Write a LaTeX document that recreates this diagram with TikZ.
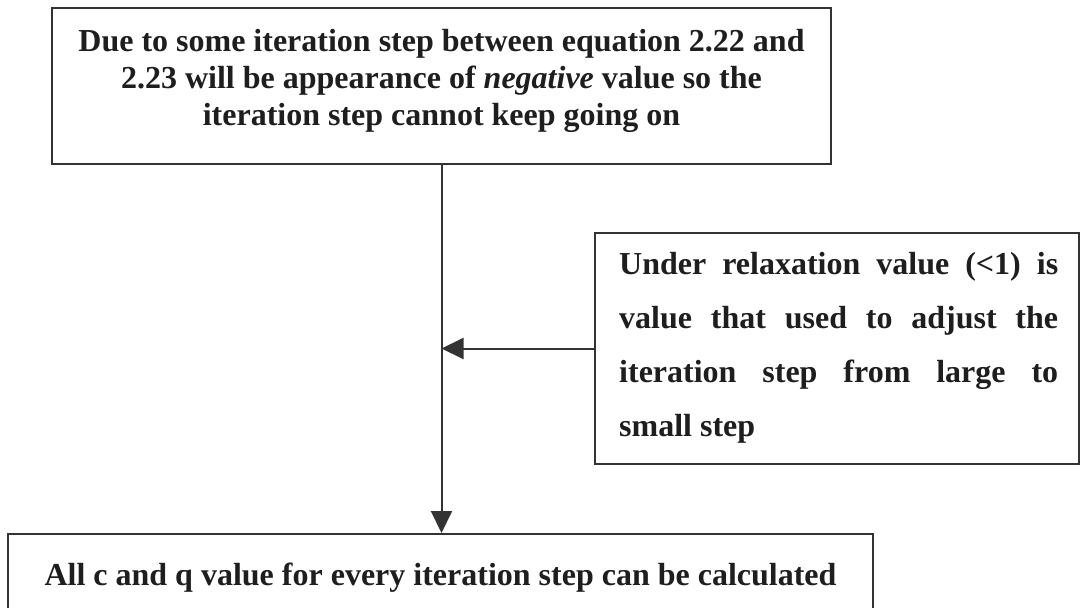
\documentclass[tikz,border=0pt]{standalone}
\usepackage{fontspec}
\setmainfont{Liberation Serif}
\usetikzlibrary{arrows.meta}
\definecolor{linec}{HTML}{333333}
\definecolor{textc}{HTML}{1E1E1E}
\begin{document}
\begin{tikzpicture}[x=1pt,y=-1pt,
  box/.style={draw=linec, line width=2pt, rectangle, inner sep=0pt},
  txt/.style={anchor=base, inner sep=0pt, text=textc, font=\fontsize{32}{37}\selectfont\bfseries},
  conn/.style={draw=linec, line width=2pt, -{Triangle[length=22pt,width=21pt]}}]
\useasboundingbox[fill=white] (0,0) rectangle (1080,608);
\clip (0,0) rectangle (1080,608);
% boxes
\node[box, minimum width=779pt, minimum height=156pt] (top) at (441.5,86) {};
\node[box, minimum width=484pt, minimum height=231pt] (side) at (837,348.5) {};
\node[box, minimum width=865pt, minimum height=96pt] (bot) at (440.5,582) {};
% texts
\node[txt] (t1) at (441.5,51) {Due to some iteration step between equation 2.22 and};
\node[txt] (t2) at (441.5,88) {2.23 will be appearance of \textit{negative} value so the};
\node[txt] (t3) at (441.5,125) {iteration step cannot keep going on};
\node[txt, anchor=base west] (s1) at (619,274) {\makebox[439pt][s]{Under relaxation value (<1) is}};
\node[txt, anchor=base west] (s2) at (619,328) {\makebox[439pt][s]{value that used to adjust the}};
\node[txt, anchor=base west] (s3) at (619,382) {\makebox[439pt][s]{iteration step from large to}};
\node[txt, anchor=base west] (s4) at (619,436) {small step};
\node[txt] (b1) at (440.5,585) {All c and q value for every iteration step can be calculated};
% connectors
\draw[conn] (top.south) -- (top.south |- bot.north);
\draw[conn] (side.west) -- (side.west -| top.south);
\end{tikzpicture}
\end{document}
